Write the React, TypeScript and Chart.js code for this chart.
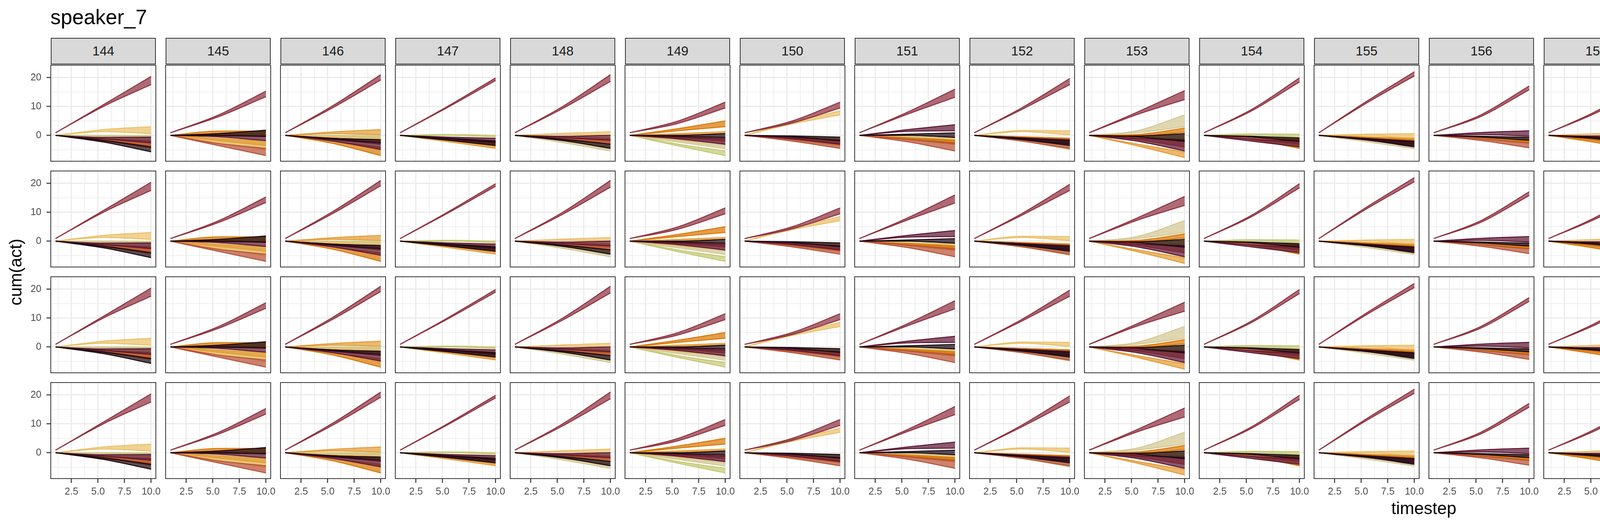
import React, { useEffect, useRef } from "react";
import { Chart, registerables } from "chart.js";

Chart.register(...registerables);

const FONT = "'Liberation Sans', Arial, Helvetica, sans-serif";

const speakers = ["144", "145", "146", "147", "148", "149", "150", "151", "152", "153", "154", "155",
  "156", "157", "158", "159", "160", "161", "162", "163", "164", "165", "166", "167"];
const models = ["auto", "allo", "poly_parall", "poly_integr"];
const readouts = ["X0", "X1", "X2", "X3", "X4", "X5", "X6", "X7", "X8"];
const lineColors = ["#c4c975", "#d3c893", "#eac16a", "#e39d38", "#d97806", "#b85338", "#8f3240", "#5e1834", "#1c0a12"];
const keyFills = ["#e1e4ba", "#e9e3c9", "#f4e0b4", "#f1ce9b", "#ecbb82", "#dba99b", "#c7999f", "#ae8b99", "#8d8488"];

const timesteps = [1, 5.5, 10];
const startValues = [0, 0, 0, 0, 0, 0, 0.9, 0, 0];
const xTicks = [1.25, 2.5, 3.75, 5, 6.25, 7.5, 8.75, 10];
const xMajor = [2.5, 5, 7.5, 10];
const yTicks = [-5, 0, 5, 10, 15, 20];
const yMajor = [0, 10, 20];

// per readout X0..X8: [low at 5.5, high at 5.5, low at 10, high at 10]
const s144 = [[-0.4, 0, -0.9, -0.1], [-0.6, -0.2, -1.5, -0.5], [1.3, 2.0, 0.6, 3.0], [-1.5, -1.0, -3.5, -2.0], [-1.9, -1.3, -4.3, -2.6], [-1.9, -1.2, -3.7, -2.0], [10.0, 10.6, 17.6, 20.4], [-1.2, -0.7, -2.6, -0.6], [-2.3, -1.7, -5.7, -4.0]];
const s145 = [[-1.5, -1.0, -3.0, -2.0], [-2.3, -1.8, -4.5, -3.5], [-2.5, -1.5, -5.0, -3.0], [-1.8, -1.0, -3.5, -2.0], [0.3, 1.5, 0.0, 1.5], [-3.5, -2.8, -7.0, -4.5], [6.4, 7.0, 13.4, 15.3], [-0.5, -0.2, -1.8, -0.3], [0.0, 0.6, -0.4, 1.8]];
const s146 = [[-0.4, 0, -0.8, -0.2], [-0.6, -0.2, -1.2, -0.5], [-0.8, -0.4, -1.5, -1.0], [0.6, 1.2, 0.2, 2.0], [-2.8, -2.0, -7.0, -4.0], [-1.4, -1.0, -3.0, -2.0], [9.6, 10.3, 19.2, 21.0], [-2.0, -1.5, -4.9, -3.0], [-1.3, -1.0, -2.6, -1.5]];
const s147 = [[0, 0.3, -0.5, 0], [-1.2, -0.7, -2.5, -1.5], [-1.8, -1.3, -4.0, -3.0], [-2.2, -1.6, -4.5, -3.5], [-1.6, -1.1, -3.5, -2.5], [-1.4, -1.0, -3.0, -2.0], [9.7, 10.1, 19.0, 19.9], [-1.2, -0.6, -2.5, -1.0], [-1.7, -1.0, -3.5, -2.0]];
const s148 = [[-2.0, -1.5, -4.0, -3.0], [-2.5, -2.0, -5.4, -4.3], [0.3, 0.7, 0.0, 1.3], [-1.0, -0.5, -2.0, -1.0], [-1.2, -0.8, -2.5, -1.5], [-1.5, -1.0, -3.0, -2.0], [9.3, 10.0, 18.7, 21.0], [-0.8, -0.3, -1.7, 0.0], [-1.8, -1.3, -4.5, -3.0]];
const s149 = [[-3.6, -3.0, -7.0, -5.4], [-2.3, -1.8, -4.6, -3.5], [-1.5, -1.0, -3.0, -2.0], [0.3, 0.6, 0.6, 1.3], [1.6, 2.3, 3.0, 5.0], [-0.8, -0.5, -2.0, -1.0], [4.1, 4.9, 9.5, 11.5], [-1.2, -0.6, -3.1, -1.2], [-0.3, 0.0, -0.7, 0.6]];
const s150 = [[-1.0, -0.5, -2.0, -1.0], [-1.0, -0.6, -2.2, -1.2], [4.0, 4.6, 7.1, 8.5], [-1.6, -1.0, -3.5, -2.0], [-1.4, -1.0, -3.0, -2.0], [-2.0, -1.3, -4.5, -2.6], [4.3, 5.0, 9.5, 11.5], [-1.2, -0.8, -3.1, -1.7], [-0.5, -0.2, -1.9, -0.6]];
const s151 = [[-0.8, -0.4, -1.9, -0.9], [-0.9, -0.5, -2.0, -1.0], [-1.1, -0.7, -2.5, -1.5], [-1.4, -1.0, -3.0, -2.0], [-1.4, -0.8, -3.1, -1.7], [-2.2, -1.3, -5.4, -2.6], [7.3, 8.0, 13.2, 16.0], [1.4, 2.0, 1.6, 3.7], [0.0, 0.4, -0.7, 0.9]];
const s152 = [[-0.9, -0.5, -2.0, -1.0], [-2.0, -1.5, -4.9, -4.0], [1.3, 1.7, 0.2, 1.6], [-0.9, -0.5, -2.0, -1.0], [-0.9, -0.5, -2.0, -1.0], [-2.0, -1.3, -4.6, -2.6], [9.0, 9.6, 17.6, 19.7], [-1.4, -0.8, -3.0, -1.5], [-1.5, -1.0, -3.5, -1.9]];
const s153 = [[-0.9, -0.5, -2.0, -1.0], [0.9, 1.6, 3.0, 7.1], [-0.4, 0.0, -1.0, 0.0], [-3.6, -3.0, -7.7, -5.8], [0.0, 0.3, 1.1, 2.5], [-1.5, -0.8, -4.0, -1.5], [7.2, 8.0, 12.4, 15.5], [-2.0, -1.0, -5.4, -1.7], [-0.5, -0.2, -2.1, 0.6]];
const s154 = [[0.2, 0.5, -0.7, 0.4], [-0.9, -0.5, -2.0, -1.0], [-0.9, -0.5, -2.0, -1.0], [-1.2, -0.8, -2.5, -1.5], [-1.4, -1.0, -4.5, -2.6], [-1.3, -1.0, -3.0, -1.5], [8.5, 9.0, 18.5, 19.9], [-2.0, -1.3, -4.0, -2.1], [-0.6, -0.3, -2.1, -0.9]];
const s155 = [[-0.9, -0.5, -2.0, -1.0], [-2.2, -1.7, -4.6, -3.5], [0.0, 0.4, -1.2, 0.6], [-0.9, -0.5, -2.0, -1.0], [-1.2, -0.7, -2.5, -1.5], [-1.4, -1.0, -3.0, -2.0], [11.2, 11.8, 20.6, 22.0], [-1.6, -1.0, -3.5, -2.0], [-1.6, -1.2, -4.0, -2.1]];
const s156 = [[-0.9, -0.5, -2.0, -1.0], [-0.9, -0.5, -2.0, -1.0], [-1.3, -0.9, -2.8, -2.0], [-1.2, -0.8, -2.5, -1.5], [-1.1, -0.8, -2.5, -2.0], [-1.8, -1.2, -4.3, -2.6], [6.6, 7.2, 15.8, 17.1], [0.3, 1.0, -0.3, 1.6], [-0.6, -0.3, -1.7, -0.7]];
const s157 = [[-0.9, -0.5, -2.0, -1.0], [-1.9, -1.4, -4.3, -3.0], [0.3, 0.6, 0.0, 1.3], [-1.4, -1.0, -3.0, -2.0], [-2.5, -1.7, -5.8, -3.5], [-1.2, -0.8, -2.5, -1.5], [7.8, 8.4, 16.4, 18.3], [-0.6, -0.2, -1.7, 0.2], [-1.2, -0.7, -3.3, -1.7]];
const s158 = [[-0.9, -0.5, -2.0, -1.0], [-0.9, -0.5, -2.0, -1.0], [1.0, 1.5, -0.9, 1.6], [2.2, 2.8, 2.5, 5.3], [-1.4, -1.0, -3.0, -2.0], [-1.4, -1.0, -3.0, -2.0], [8.5, 9.4, 14.8, 18.9], [-1.7, -1.2, -4.3, -2.4], [-2.4, -1.7, -6.1, -3.5]];
const s159 = [[-0.9, -0.5, -2.0, -1.0], [-2.2, -1.7, -4.6, -3.7], [1.2, 1.6, 0.4, 1.6], [-1.2, -0.5, -2.5, -1.0], [-0.9, -0.5, -2.0, -1.0], [-1.4, -0.8, -3.0, -1.5], [11.0, 11.6, 19.7, 21.3], [-1.4, -1.0, -3.0, -2.0], [-1.8, -1.2, -4.9, -2.6]];
const s160 = [[-1.2, -0.7, -2.5, -1.5], [-0.9, -0.5, -2.0, -1.0], [0.2, 0.6, 0.0, 1.0], [0.9, 1.5, 0.9, 2.5], [-2.2, -1.5, -5.6, -3.5], [-2.0, -1.2, -4.3, -2.6], [5.9, 6.5, 15.0, 17.3], [-1.2, -0.5, -2.5, -1.0], [-0.8, -0.4, -2.4, -1.0]];
const s161 = [[0.1, 0.3, -0.3, 0.2], [-1.0, -0.5, -2.1, -0.9], [-0.7, -0.3, -1.5, -0.5], [-0.7, -0.3, -1.5, -0.5], [0.3, 0.6, 0.0, 1.1], [-2.4, -1.8, -5.2, -3.5], [9.6, 10.2, 17.3, 18.9], [-1.5, -1.0, -3.3, -2.1], [-1.7, -1.2, -4.6, -2.6]];
const s162 = [[-0.7, -0.3, -1.5, -0.5], [-0.7, -0.3, -1.5, -0.5], [3.3, 3.9, 4.4, 6.9], [-1.4, -1.0, -3.0, -2.0], [-2.0, -1.3, -4.9, -2.6], [-1.4, -0.8, -3.0, -1.5], [6.3, 7.1, 12.2, 16.0], [-0.3, 0.0, -0.7, 0.6], [-1.5, -1.0, -4.3, -2.1]];
const s163 = [[-1.2, -0.8, -2.5, -1.5], [-2.5, -1.8, -5.2, -3.5], [2.2, 2.8, 2.0, 4.6], [-0.9, -0.5, -2.0, -1.0], [0.2, 0.5, 0.0, 1.1], [-1.8, -1.0, -4.0, -2.0], [6.8, 7.5, 11.8, 14.6], [-1.2, -0.6, -3.1, -1.2], [0.0, 0.2, -0.7, 0.6]];
const s164 = [[3.0, 3.6, 3.2, 5.3], [-1.4, -1.0, -3.0, -2.0], [-1.4, -1.0, -3.0, -2.0], [0.0, 0.3, -0.3, 0.9], [-3.0, -2.2, -7.0, -4.5], [-0.5, 0.2, -1.0, 0.9], [7.7, 8.5, 15.5, 17.8], [-2.2, -1.3, -5.4, -2.6], [-1.2, -0.8, -3.1, -1.7]];
const s165 = [[-0.7, -0.3, -1.5, -0.5], [-2.0, -1.5, -4.9, -3.7], [-1.2, -0.8, -2.5, -1.5], [-0.9, -0.5, -2.0, -1.0], [-0.9, -0.5, -2.0, -1.0], [-1.6, -1.3, -3.5, -2.5], [8.7, 9.3, 18.0, 19.9], [-0.2, 0.1, -0.9, 0.4], [-1.2, -0.8, -3.5, -2.1]];
const s166 = [[0.1, 0.3, -0.2, 0.2], [-1.4, -0.8, -3.0, -1.5], [-2.0, -1.5, -4.0, -2.0], [-1.6, -1.0, -3.5, -2.0], [-1.6, -1.2, -4.6, -3.0], [-1.2, -0.8, -2.5, -1.5], [8.4, 9.0, 17.1, 18.9], [-0.2, 0.2, -0.7, 0.4], [-1.0, -0.6, -3.7, -2.1]];
const s167 = [[-0.9, -0.5, -2.0, -1.0], [-2.9, -2.3, -6.5, -4.9], [-0.9, -0.5, -2.0, -1.0], [1.2, 1.8, 0.6, 2.8], [-0.3, 0.0, -0.7, 0.0], [-1.8, -1.2, -4.6, -2.6], [9.0, 9.6, 17.3, 19.2], [-1.0, -0.4, -2.6, -0.7], [-0.5, -0.2, -1.9, -0.3]];

const speakerBands = [s144, s145, s146, s147, s148, s149, s150, s151, s152, s153, s154, s155,
  s156, s157, s158, s159, s160, s161, s162, s163, s164, s165, s166, s167];

// layout (px)
const PANEL_W = 269;
const PANEL_H = 246;
const rowTops = [167, 438, 709, 980];
const panelLeft = (c: number) => Math.round(129.5 + 294 * c);
const M = 40;
const AXIS_W = 110;
const AXIS_H = 60;

const withAlpha = (hex: string, a: number) => {
  const n = parseInt(hex.slice(1), 16);
  return `rgba(${(n >> 16) & 255}, ${(n >> 8) & 255}, ${n & 255}, ${a})`;
};

function Panel({ col, row }: { col: number; row: number }) {
  const canvasRef = useRef<HTMLCanvasElement>(null);
  const firstCol = col === 0;
  const lastRow = row === models.length - 1;
  const left = panelLeft(col) - (firstCol ? AXIS_W : M);
  const top = rowTops[row] - M;
  const width = PANEL_W + (firstCol ? AXIS_W : M) + M;
  const height = PANEL_H + M + (lastRow ? AXIS_H : M);

  useEffect(() => {
    const ctx = canvasRef.current?.getContext("2d");
    if (!ctx) return;
    const bands = speakerBands[col];
    const datasets: any[] = [];
    readouts.forEach((name, r) => {
      const [loMid, hiMid, loEnd, hiEnd] = bands[r];
      const lo = [startValues[r], loMid, loEnd];
      const hi = [startValues[r], hiMid, hiEnd];
      const common = {
        borderColor: lineColors[r],
        borderWidth: 2.5,
        pointRadius: 0,
        cubicInterpolationMode: "monotone",
        order: readouts.length - 1 - r,
      };
      datasets.push({ ...common, label: name + " low", data: timesteps.map((t, i) => ({ x: t, y: lo[i] })), fill: false });
      datasets.push({
        ...common,
        label: name + " high",
        data: timesteps.map((t, i) => ({ x: t, y: hi[i] })),
        fill: "-1",
        backgroundColor: withAlpha(lineColors[r], 0.72),
      });
    });

    const chart = new Chart(ctx, {
      type: "line",
      data: { datasets },
      options: {
        animation: false,
        responsive: false,
        events: [],
        layout: {
          padding: { left: firstCol ? 0 : M, right: M, top: M, bottom: lastRow ? 0 : M },
        },
        plugins: { legend: { display: false }, tooltip: { enabled: false } },
        scales: {
          x: {
            type: "linear",
            min: 0.55,
            max: 10.45,
            afterBuildTicks: (s: any) => {
              s.ticks = xTicks.map((v) => ({ value: v }));
            },
            afterFit: (s: any) => {
              s.height = lastRow ? AXIS_H : 0;
            },
            border: { display: false },
            grid: {
              color: "#ebebeb",
              lineWidth: (c: any) => (xMajor.includes(c.tick?.value) ? 3 : 1.6),
              drawTicks: lastRow,
              tickLength: 11,
              tickWidth: 2.5,
              tickColor: (c: any) => (xMajor.includes(c.tick?.value) ? "#333333" : "rgba(0,0,0,0)"),
            },
            ticks: {
              display: lastRow,
              autoSkip: false,
              maxRotation: 0,
              minRotation: 0,
              padding: 8,
              color: "#4d4d4d",
              font: { family: FONT, size: 25 },
              callback: (v: any) => (xMajor.includes(v) ? Number(v).toFixed(1) : ""),
            },
          },
          y: {
            type: "linear",
            min: -8.95,
            max: 24.3,
            afterBuildTicks: (s: any) => {
              s.ticks = yTicks.map((v) => ({ value: v }));
            },
            afterFit: (s: any) => {
              s.width = firstCol ? AXIS_W : 0;
            },
            border: { display: false },
            grid: {
              color: "#ebebeb",
              lineWidth: (c: any) => (yMajor.includes(c.tick?.value) ? 3 : 1.6),
              drawTicks: firstCol,
              tickLength: 11,
              tickWidth: 2.5,
              tickColor: (c: any) => (yMajor.includes(c.tick?.value) ? "#333333" : "rgba(0,0,0,0)"),
            },
            ticks: {
              display: firstCol,
              autoSkip: false,
              padding: 13,
              color: "#4d4d4d",
              font: { family: FONT, size: 25 },
              callback: (v: any) => (yMajor.includes(v) ? String(v) : ""),
            },
          },
        },
      } as any,
    });
    return () => chart.destroy();
  }, [col, row]);

  return (
    <>
      <canvas
        ref={canvasRef}
        width={width}
        height={height}
        style={{ position: "absolute", left, top, width, height }}
      />
      <div
        style={{
          position: "absolute",
          left: panelLeft(col) - 1.25,
          top: rowTops[row] - 1.25,
          width: PANEL_W + 2.5,
          height: PANEL_H + 2.5,
          border: "2.5px solid #333333",
          boxSizing: "border-box",
        }}
      />
    </>
  );
}

const stripStyle: React.CSSProperties = {
  position: "absolute",
  background: "#d9d9d9",
  border: "2.5px solid #333333",
  boxSizing: "border-box",
  color: "#1a1a1a",
  fontSize: 33.5,
  display: "flex",
  alignItems: "center",
  justifyContent: "center",
};

export default function App() {
  return (
    <div
      style={{
        position: "absolute",
        left: 0,
        top: 0,
        width: 7500,
        height: 1350,
        background: "#ffffff",
        fontFamily: FONT,
        overflow: "hidden",
      }}
    >
      <div style={{ position: "absolute", left: 129, top: 17, fontSize: 53, lineHeight: 1, color: "#000" }}>
        speaker_7
      </div>

      {speakers.map((s, c) => (
        <div key={"top" + s} style={{ ...stripStyle, left: panelLeft(c), top: 97, width: PANEL_W, height: 68 }}>
          {s}
        </div>
      ))}

      {models.map((m, r) => (
        <div
          key={"side" + m}
          style={{ ...stripStyle, left: 7162, top: rowTops[r], width: 68, height: PANEL_H, writingMode: "vertical-rl" }}
        >
          {m}
        </div>
      ))}

      {models.map((m, r) => speakers.map((s, c) => <Panel key={m + s} col={c} row={r} />))}

      <div
        style={{
          position: "absolute",
          left: 3445,
          top: 1280,
          width: 400,
          textAlign: "center",
          fontSize: 44,
          lineHeight: 1,
          color: "#000",
        }}
      >
        timestep
      </div>
      <div
        style={{
          position: "absolute",
          left: 40 - 200,
          top: 697 - 22,
          width: 400,
          height: 44,
          textAlign: "center",
          fontSize: 44,
          lineHeight: "44px",
          color: "#000",
          transform: "rotate(-90deg)",
        }}
      >
        cum(act)
      </div>

      <div style={{ position: "absolute", left: 7300, top: 339, fontSize: 44, lineHeight: 1, color: "#000" }}>
        readout
      </div>
      {readouts.map((name, i) => {
        const keyTop = 405 + 71.8 * i;
        return (
          <React.Fragment key={name}>
            <div
              style={{
                position: "absolute",
                left: 7300,
                top: keyTop,
                width: 70,
                height: 70,
                boxSizing: "border-box",
                border: `3px solid ${lineColors[i]}`,
                background: keyFills[i],
              }}
            >
              <div
                style={{
                  position: "absolute",
                  left: 4,
                  right: 4,
                  top: 30.5,
                  height: 3.5,
                  background: lineColors[i],
                }}
              />
            </div>
            <div
              style={{
                position: "absolute",
                left: 7395,
                top: keyTop,
                height: 70,
                lineHeight: "70px",
                fontSize: 34,
                color: "#000",
              }}
            >
              {name}
            </div>
          </React.Fragment>
        );
      })}
    </div>
  );
}
